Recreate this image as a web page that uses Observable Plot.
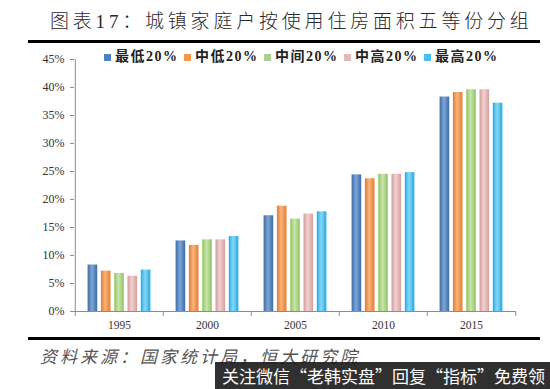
<!DOCTYPE html>
<html><head><meta charset="utf-8">
<script src="https://cdn.jsdelivr.net/npm/d3@7"></script>
<script src="https://cdn.jsdelivr.net/npm/@observablehq/plot@0.6"></script>
<style>
html,body{margin:0;padding:0;background:#fff;}
#wrap{position:relative;width:550px;height:389px;overflow:hidden;background:#fff;}
#title{position:absolute;top:11px;left:50px;font-family:"Liberation Serif","Noto Sans CJK SC",serif;font-size:19px;font-weight:300;line-height:22px;letter-spacing:3.8px;color:#2a2a2a;white-space:nowrap;}
.rule{position:absolute;left:28px;width:512px;height:3px;background:#000;}
#chart{position:absolute;top:44px;left:0;}
#legend{position:absolute;top:48px;left:104px;display:flex;font-family:"Liberation Serif","Noto Sans CJK SC",serif;font-size:14px;font-weight:bold;letter-spacing:1.5px;color:#222;line-height:18px;}
#legend .item{width:80px;display:flex;align-items:center;white-space:nowrap;}
#legend .sw{width:7px;height:7px;margin-right:4px;flex:none;}
#caption{position:absolute;top:343px;left:40px;font-family:"Noto Sans CJK SC",sans-serif;font-style:italic;font-size:17px;letter-spacing:3px;color:#555;white-space:nowrap;}
#wm{position:absolute;top:362px;left:215px;width:335px;height:27px;background:rgba(25,25,25,0.9);color:#fff;font-family:"Noto Sans CJK SC",sans-serif;font-size:17px;line-height:27px;padding-left:7px;box-sizing:border-box;white-space:nowrap;}
</style></head>
<body>
<div id="wrap">
  <div id="title">图表17：城镇家庭户按使用住房面积五等份分组</div>
  <div class="rule" style="top:40px"></div>
  <div id="chart"></div>
  <div id="legend"></div>
  <div class="rule" style="top:337px"></div>
  <div id="caption">资料来源：国家统计局，恒大研究院</div>
  <div id="wm">关注微信“老韩实盘”回复“指标”免费领</div>
</div>
<script>
const years = ["1995", "2000", "2005", "2010", "2015"];
const groups = ["最低20%", "中低20%", "中间20%", "中高20%", "最高20%"];
const lowest   = [8.3, 12.6, 17.1, 24.4, 38.3];
const lowerMid = [7.2, 11.8, 18.8, 23.7, 39.1];
const middle   = [6.8, 12.8, 16.5, 24.5, 39.6];
const upperMid = [6.3, 12.8, 17.4, 24.5, 39.6];
const highest  = [7.4, 13.4, 17.8, 24.8, 37.2];
const yTicks = [0, 5, 10, 15, 20, 25, 30, 35, 40, 45];

const seriesValues = [lowest, lowerMid, middle, upperMid, highest];
const colors = [
  {edge:"#3c6ba6", mid:"#7ea6d8", flat:"#4f81bd"},
  {edge:"#e27c2e", mid:"#fbb47f", flat:"#f79646"},
  {edge:"#93c266", mid:"#c9e6ab", flat:"#a9d08e"},
  {edge:"#d39e9d", mid:"#f2d2d1", flat:"#e6b8b7"},
  {edge:"#27a9e1", mid:"#86d8f8", flat:"#4bc0ef"}
];

const data = groups.flatMap((g, i) => years.map((y, j) => ({year: y, group: g, idx: i, value: seriesValues[i][j]})));

const W = 550, H = 290, mL = 74, mR = 34, mT = 15, mB = 23;
const band = (W - mL - mR) / years.length;
const step = 13.3, barW = 10;
const innerH = H - mT - mB;
const axisColor = "#8c8c8c";

const marks = [];
groups.forEach((g, i) => {
  marks.push(Plot.barY(data.filter(d => d.idx === i), {
    x: "year", y: "value", fill: `url(#grad${i})`,
    dx: (i - 2) * step,
    insetLeft: (band - barW) / 2, insetRight: (band - barW) / 2
  }));
});
marks.push(Plot.ruleY([0], {stroke: axisColor}));
marks.push(Plot.ruleX([years[0]], {dx: -band / 2, stroke: axisColor}));
marks.push(Plot.ruleX(years, {dx: -band / 2, insetTop: innerH, insetBottom: -5, stroke: axisColor}));
marks.push(Plot.ruleX([years[years.length - 1]], {dx: band / 2, insetTop: innerH, insetBottom: -5, stroke: axisColor}));
marks.push(Plot.axisY({ticks: yTicks, tickFormat: d => d + "%", tickSize: 4, tickPadding: 6, stroke: axisColor, fill: "#333", fontSize: 12, label: null}));
marks.push(Plot.axisX({tickSize: 0, tickPadding: 9, fill: "#333", fontSize: 11.5, label: null}));

const svg = Plot.plot({
  width: W, height: H,
  marginLeft: mL, marginRight: mR, marginTop: mT, marginBottom: mB,
  x: {type: "band", domain: years, padding: 0},
  y: {domain: [0, 45]},
  style: {fontFamily: "'Liberation Serif', serif", background: "transparent", color: "#333"},
  marks
});

const defs = d3.select(svg).insert("defs", ":first-child");
colors.forEach((c, i) => {
  const g = defs.append("linearGradient").attr("id", `grad${i}`).attr("x1", 0).attr("x2", 1).attr("y1", 0).attr("y2", 0);
  g.append("stop").attr("offset", "0%").attr("stop-color", c.edge);
  g.append("stop").attr("offset", "45%").attr("stop-color", c.mid);
  g.append("stop").attr("offset", "100%").attr("stop-color", c.edge);
});
document.getElementById("chart").appendChild(svg);

const legend = d3.select("#legend");
groups.forEach((g, i) => {
  const it = legend.append("div").attr("class", "item");
  it.append("div").attr("class", "sw").style("background", colors[i].flat);
  it.append("span").text(g);
});
</script>
</body></html>
